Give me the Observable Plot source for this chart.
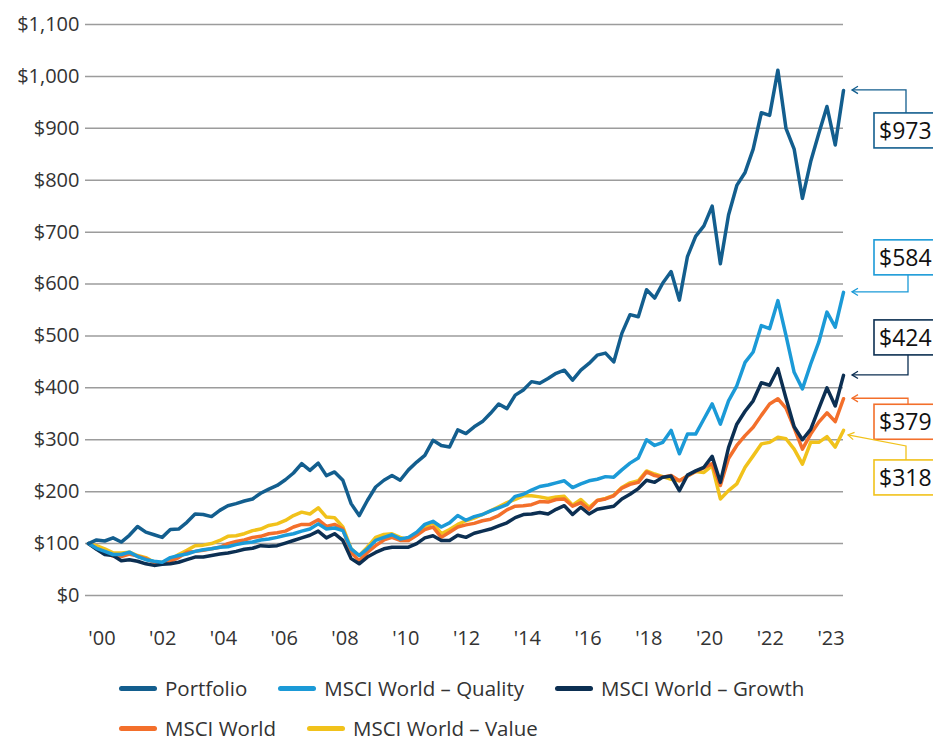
<!DOCTYPE html>
<html>
<head>
<meta charset="utf-8">
<script src="https://cdn.jsdelivr.net/npm/d3@7"></script>
<script src="https://cdn.jsdelivr.net/npm/@observablehq/plot@0.6"></script>
<style>
  html, body { margin: 0; padding: 0; background: #fff; overflow: hidden; width: 933px; height: 737px; }
  body { font-family: "Open Sans", sans-serif; color: #333; }
  #chart svg { display: block; }
  .legend-row { display: flex; align-items: center; padding-left: 119px; height: 40px; font-size: 20.5px; color: #333; }
  .legend-item { display: flex; align-items: center; margin-right: 31px; white-space: nowrap; }
  .swatch { width: 38px; height: 5px; border-radius: 3px; margin-right: 8px; }
</style>
</head>
<body>
<div id="chart"></div>
<div id="legend" style="margin-top:13px"></div>
<script>
// ---- Data (quarter-end values of $100 invested, Dec 2000 – Dec 2023) ----
const seriesNames = ["Portfolio", "MSCI World – Quality", "MSCI World – Growth", "MSCI World", "MSCI World – Value"];
const seriesColors = ["#135e8e", "#1b9ad7", "#0c2f52", "#f36f2b", "#f1c21b"];

const portfolio = [100,107,105,111,103,116,133,122,117,112,127,128,141,157,156,152,164,173,177,182,
  186,197,205,212,223,236,254,241,255,231,238,222,177,154,183,209,222,231,222,242,
  257,270,299,289,286,319,312,325,335,351,369,360,386,396,412,409,418,428,434,415,
  434,447,463,467,450,505,541,537,589,573,602,624,569,653,692,712,750,639,733,790,
  815,860,930,925,1012,900,860,765,836,890,942,868,973];

const quality = [100,91,85,79,79,83.5,75,69,66,64,73,77,80,85,88,90,93,94,98,101,
  103,107,109,112,116,119,124,128,138,128,130,125,90,77,90,106,112,117,109,112,
  122,137,143,132,140,154,145,152,156,163,169,175,191,195,203,210,213,217,221,208,
  215,221,224,229,228,242,255,265,300,289,295,318,273,311,311,340,369,330,375,404,
  449,469,520,514,568,501,430,398,446,488,546,517,584];

const growth = [100,89,79,77,67,69,66,61,58,60,61,64,69,74,74,77,80,82,85,89,
  91,96,95,96,101,106,111,116,124,111,119,106,71,61,74,83,90,93,93,93,
  100,111,115,106,106,116,112,120,124,128,134,140,150,156,157,160,157,166,173,156,
  170,157,166,169,172,186,195,206,222,218,228,230,202,232,240,247,268,218,285,330,
  355,375,410,405,437,380,325,300,320,360,400,365,424];

const world = [100,90,83.5,76,75,80,76,71,64,61,66,73,83.5,85,87,90,93,100,104,107,
  112,114,119,121,124,132,137,137,146,133,137,128,83,67,83,96,107,112,106,106,
  116,127,132,112,122,132,136,139,144,147,154,165,172,173,175,181,180,185,186,172,
  179,166,183,186,192,207,214,218,238,231,228,231,221,230,239,246,254,212,264,289,
  308,324,347,369,379,361,323,282,311,334,352,335,379];

const value = [100,96,90,82,82,83.5,77,73,64,64,69,79,87,96,97,100,106,114,115,119,
  125,128,135,138,144.5,154,160.6,157,169,151,150,132,90,77,93,112,117.5,119,112,107,
  117.5,130,141,119,127,137,144,149,156,163,171,179,185,192,192,190,187,190,191,174,
  185,170,183,187,193,208,217,221,240,234,229,224,221,230,239,237,250,186,202,215,
  247,269,292,295,305,302,282,253,295,295,306,286,318];

const seriesValues = [portfolio, quality, growth, world, value];

// quarter-end dates
const quarters = d3.range(portfolio.length).map(k => new Date(Date.UTC(2000, 12 + 3 * k, 0)));

// axis tick labels
const yTicks = d3.range(0, 1101, 100);
const xLabels = ["'00","'02","'04","'06","'08","'10","'12","'14","'16","'18","'20","'22","'23"];

// ---- layout (not data) ----
const tickFirst = Date.UTC(2001, 4, 30), tickLast = Date.UTC(2023, 7, 15);
const xTickDates = xLabels.map((_, i) => new Date(tickFirst + i * (tickLast - tickFirst) / (xLabels.length - 1)));
const labelByTime = new Map(xTickDates.map((d, i) => [+d, xLabels[i]]));
// callout box top offset relative to the line end (px), connector x, kind
const calloutLayout = [
  {offset: 23, cx: 906, kind: "elbow"},
  {offset: -52, cx: 908, kind: "elbow"},
  {offset: -55, cx: 908, kind: "elbow"},
  {offset: 6, cx: 908, kind: "elbow"},
  {offset: 30, cx: 906, kind: "diag"}
];

const rows = [];
seriesNames.forEach((name, s) => {
  seriesValues[s].forEach((v, k) => rows.push({series: name, date: quarters[k], value: v}));
});

const drawOrder = [4, 3, 2, 1, 0];

function callouts(index, scales, values, dims) {
  const g = d3.create("svg:g");
  const boxX = 874, boxH = 35, tipX = 852;
  seriesNames.forEach((name, s) => {
    const vals = seriesValues[s];
    const last = vals[vals.length - 1];
    const yv = scales.y(last);
    const L = calloutLayout[s];
    const top = yv + L.offset;
    const color = seriesColors[s];
    let pts;
    if (L.kind === "elbow") {
      const edge = L.offset > 0 ? top : top + boxH;
      pts = [[L.cx, edge], [L.cx, yv], [tipX, yv]];
    } else {
      pts = [[L.cx, top], [L.cx, top - 14], [tipX - 4, yv + 5]];
    }
    g.append("path")
      .attr("d", d3.line()(pts))
      .attr("fill", "none").attr("stroke", color).attr("stroke-width", 1.3);
    const [a, b] = [pts[pts.length - 2], pts[pts.length - 1]];
    const ang = Math.atan2(a[1] - b[1], a[0] - b[0]);
    const hl = 7, spread = 0.55;
    const p1 = [b[0] + hl * Math.cos(ang + spread), b[1] + hl * Math.sin(ang + spread)];
    const p2 = [b[0] + hl * Math.cos(ang - spread), b[1] + hl * Math.sin(ang - spread)];
    g.append("path")
      .attr("d", d3.line()([p1, b, p2]))
      .attr("fill", "none").attr("stroke", color).attr("stroke-width", 1.3);
    g.append("rect")
      .attr("x", boxX).attr("y", top).attr("width", 80).attr("height", boxH)
      .attr("fill", "#fff").attr("stroke", color).attr("stroke-width", 1.6);
    g.append("text")
      .attr("x", boxX + 5).attr("y", top + boxH / 2)
      .attr("dy", "0.36em")
      .attr("text-anchor", "start")
      .attr("font-size", 23).attr("fill", "#111")
      .attr("font-family", "Open Sans")
      .text("$" + d3.format(",")(last));
  });
  return g.node();
}

const chart = Plot.plot({
  width: 933,
  height: 655,
  marginTop: 24,
  marginBottom: 60,
  marginLeft: 85,
  marginRight: 90,
  style: {fontFamily: "Open Sans", fontSize: "20px", color: "#333", background: "transparent", overflow: "hidden"},
  x: {type: "utc", domain: [new Date(Date.UTC(2000, 10, 28)), quarters[quarters.length - 1]]},
  y: {domain: [0, 1100]},
  marks: [
    Plot.ruleY(yTicks, {stroke: "#9c9c9c", strokeWidth: 1.5}),
    Plot.axisY(yTicks, {label: null, tickSize: 0, tickPadding: 6, tickFormat: d => "$" + d3.format(",")(d), fontSize: 20, fill: "#333"}),
    Plot.axisX(xTickDates, {label: null, tickSize: 0, tickPadding: 35, tickFormat: d => labelByTime.get(+d), fontSize: 20, fill: "#333"}),
    ...drawOrder.map(s => Plot.line(rows.filter(r => r.series === seriesNames[s]), {
      x: "date", y: "value", stroke: seriesColors[s], strokeWidth: 3.5, strokeLinejoin: "round", strokeLinecap: "round"
    })),
    callouts
  ]
});
document.getElementById("chart").appendChild(chart);

// legend
const legend = document.getElementById("legend");
const legendRows = [[0, 1, 2], [3, 4]];
legendRows.forEach(r => {
  const row = document.createElement("div");
  row.className = "legend-row";
  r.forEach(s => {
    const item = document.createElement("div");
    item.className = "legend-item";
    const sw = document.createElement("span");
    sw.className = "swatch";
    sw.style.background = seriesColors[s];
    const tx = document.createElement("span");
    tx.textContent = seriesNames[s];
    item.appendChild(sw); item.appendChild(tx);
    row.appendChild(item);
  });
  legend.appendChild(row);
});
</script>
</body>
</html>
